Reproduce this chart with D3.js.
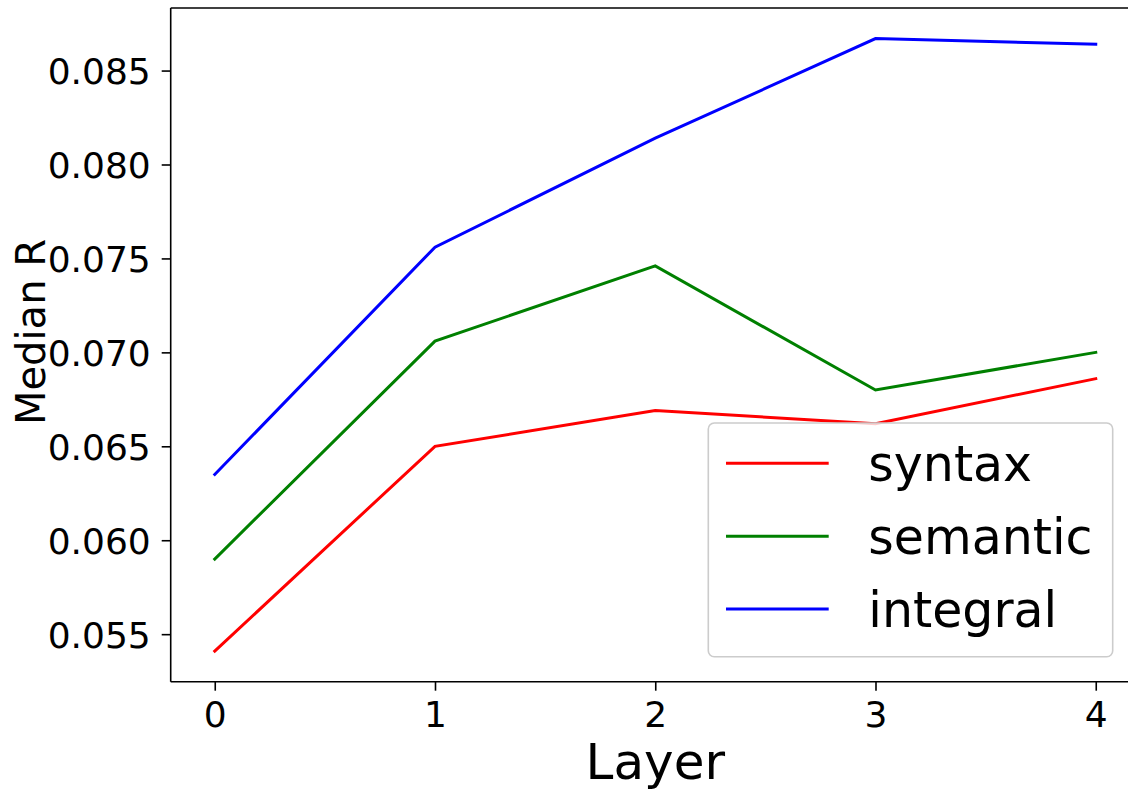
<!DOCTYPE html>
<html>
<head>
<meta charset="utf-8">
<script src="https://cdn.jsdelivr.net/npm/d3@7"></script>
<style>
  html, body { margin: 0; padding: 0; background: #fff; }
  svg { display: block; }
  svg text { font-family: "DejaVu Sans", sans-serif; }
</style>
</head>
<body>
<svg id="chart" width="1128" height="792"></svg>
<script>
// Median R per layer for each probe type
const layers = [0, 1, 2, 3, 4];
const syntax = [0.0541, 0.0650, 0.0669, 0.0662, 0.0686];
const semantic = [0.0590, 0.0706, 0.0746, 0.0680, 0.0700];
const integral = [0.0635, 0.0756, 0.0814, 0.0867, 0.0864];
const seriesNames = ["syntax", "semantic", "integral"];
const seriesColors = ["#ff0000", "#008000", "#0000ff"];
const yTicks = [0.055, 0.060, 0.065, 0.070, 0.075, 0.080, 0.085];
const xLabel = "Layer";
const yLabel = "Median R";

const series = [syntax, semantic, integral].map((vals, i) => ({
  name: seriesNames[i],
  color: seriesColors[i],
  points: layers.map((l, j) => ({ x: l, y: vals[j] }))
}));

const svg = d3.select("#chart");
const plot = { left: 170.7, top: 8, bottom: 681.7, pxPerLayer: 220.25 };

// 5% padding on each side, like a default autoscaled axis
const pad = (lo, hi) => { const m = (hi - lo) * 0.05; return [lo - m, hi + m]; };
const xDom = pad(d3.min(layers), d3.max(layers));
const allY = [...syntax, ...semantic, ...integral];
const yDom = pad(d3.min(allY), d3.max(allY));

const x = d3.scaleLinear().domain(xDom)
  .range([plot.left, plot.left + (xDom[1] - xDom[0]) * plot.pxPerLayer]);
const y = d3.scaleLinear().domain(yDom).range([plot.bottom, plot.top]);
const right = x.range()[1];

// data lines
const line = d3.line().x(d => x(d.x)).y(d => y(d.y));
svg.append("g").selectAll("path").data(series).join("path")
  .attr("d", d => line(d.points))
  .attr("fill", "none")
  .attr("stroke", d => d.color)
  .attr("stroke-width", 3)
  .attr("stroke-linejoin", "miter")
  .attr("stroke-linecap", "square");

// x axis
const xAxis = d3.axisBottom(x).tickValues(layers).tickFormat(d3.format("d"))
  .tickSizeInner(9).tickSizeOuter(0).tickPadding(8);
const gx = svg.append("g").attr("transform", `translate(0,${plot.bottom})`).call(xAxis)
  .attr("font-family", "DejaVu Sans");
gx.select(".domain").remove();
gx.selectAll(".tick line").attr("stroke", "#000").attr("stroke-width", 1.6);
gx.selectAll(".tick text").attr("font-size", 36).attr("fill", "#000")
  .attr("dy", null).attr("y", 45);

// y axis
const yAxis = d3.axisLeft(y).tickValues(yTicks).tickFormat(d3.format(".3f"))
  .tickSizeInner(9).tickSizeOuter(0).tickPadding(11);
const gy = svg.append("g").attr("transform", `translate(${plot.left},0)`).call(yAxis)
  .attr("font-family", "DejaVu Sans");
gy.select(".domain").remove();
gy.selectAll(".tick line").attr("stroke", "#000").attr("stroke-width", 1.6);
gy.selectAll(".tick text").attr("font-size", 36).attr("fill", "#000")
  .attr("dy", "0.36em");

// spines
const spine = svg.append("g").attr("stroke", "#000").attr("stroke-width", 1.6).attr("fill", "none");
spine.append("line").attr("x1", plot.left).attr("x2", plot.left).attr("y1", plot.top).attr("y2", plot.bottom);
spine.append("line").attr("x1", plot.left).attr("x2", right).attr("y1", plot.bottom).attr("y2", plot.bottom);
spine.append("line").attr("x1", plot.left).attr("x2", right).attr("y1", plot.top).attr("y2", plot.top);
spine.append("line").attr("x1", right).attr("x2", right).attr("y1", plot.top).attr("y2", plot.bottom);

// axis titles
svg.append("text").text(xLabel)
  .attr("x", (x(0) + x(4)) / 2).attr("y", 779)
  .attr("text-anchor", "middle").attr("font-size", 50).attr("fill", "#000");
svg.append("text").text(yLabel)
  .attr("transform", `translate(45,332) rotate(-90)`)
  .attr("text-anchor", "middle").attr("font-size", 40).attr("fill", "#000");

// legend
const legend = svg.append("g").attr("transform", "translate(708.3,423)");
legend.append("rect")
  .attr("width", 404.4).attr("height", 233.7).attr("rx", 6).attr("ry", 6)
  .attr("fill", "#fff").attr("fill-opacity", 0.8)
  .attr("stroke", "#cccccc").attr("stroke-width", 1.6);
const items = legend.selectAll("g.item").data(series).join("g")
  .attr("class", "item")
  .attr("transform", (d, i) => `translate(0,${40.3 + i * 72.9})`);
items.append("line")
  .attr("x1", 17.7).attr("x2", 120.4)
  .attr("stroke", d => d.color).attr("stroke-width", 3);
items.append("text").text(d => d.name)
  .attr("x", 160).attr("y", 18)
  .attr("font-size", 49).attr("fill", "#000");
</script>
</body>
</html>
